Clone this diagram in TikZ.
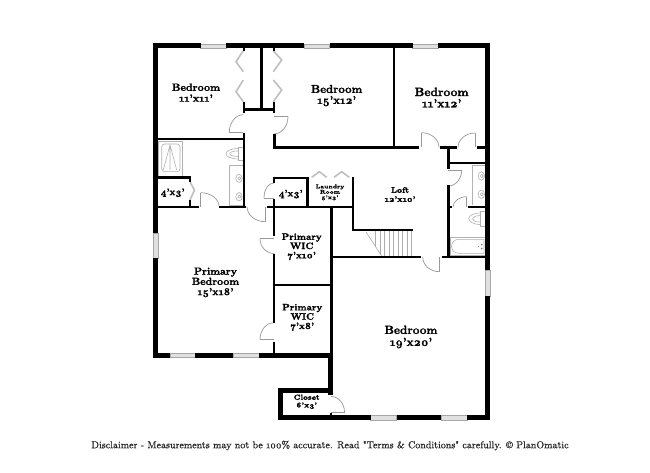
\documentclass[tikz,border=0pt]{standalone}
\usepackage{fontspec}
\setmainfont{Latin Modern Roman}[Numbers=OldStyle,BoldFeatures={FakeBold=1.6}]
\newfontface\notefont{Latin Modern Roman}[Numbers=OldStyle,FakeBold=0.6]
\usetikzlibrary{calc}
\newcommand\lblf[2]{\fontsize{#1}{#2}\selectfont\bfseries}
\newcommand\doorswing[3]{% hinge, leaf end, closed end
  \draw[doorline] (#2) -- (#1);
  \draw[doorline] (#2) .. controls ($(#2)!0.55!($(#2)+(#3)-(#1)$)$) and ($(#3)!0.55!($(#2)+(#3)-(#1)$)$) .. (#3);
}
\tikzset{
  wall/.style={line width=5pt,black},
  iwall/.style={line width=2.6pt,black},
  windowpane/.style={draw=black!35,fill=black!12,line width=.6pt},
  doorline/.style={draw=black!40,line width=.7pt},
  bifold/.style={draw=black!25,line width=1.6pt,line join=miter},
  fixture/.style={draw=black!30,line width=.6pt},
  stairline/.style={draw=black!32,line width=.6pt},
  room/.style={align=center,inner sep=0pt,text=black},
  x=1pt,y=-1pt
}
\begin{document}
\begin{tikzpicture}
\useasboundingbox (0,0) rectangle (650,473);
\fill[white] (0,0) rectangle (650,473);
% windows
\foreach \a/\b/\c/\d in {200.7/44.5/226/48, 304/44.5/329.5/48, 412.7/44.5/438.3/48,
  170/352.8/195/357, 233/352.8/259/357, 370.7/415.5/396.7/420, 441/415.5/467/420,
  153.5/233/158/258, 485.5/270/490/296}
  \draw[windowpane] (\a,\b) rectangle (\c,\d);
% stairs
\foreach \tx in {375.7,380.2,384.7,389.2,393.7,398.2,402.7,407.2,411.7}{
  \pgfmathsetmacro{\ty}{min(256,232+(\tx-366)*24/15.7)}
  \draw[stairline] (\tx,231) -- (\tx,\ty);
}
\draw[stairline] (366,232) -- (381.7,256);
% fixtures
\draw[fixture] (158,141) rectangle (182.5,177);
\draw[fixture,rounded corners=3pt] (161.7,144) rectangle (180,171.7);
\draw[fixture] (163.3,170) -- (170,145) -- (176.7,170) (170,145) -- (170,170);
\draw[fixture] (238,147) rectangle (243,160);
\draw[fixture] (238,148.5) .. controls (222,149) and (222,158.5) .. (238,159);
\draw[fixture] (238,151) .. controls (227,151) and (227,156.5) .. (238,156.5);
\draw[fixture] (243,165) -- (229,165) -- (229,205) -- (243,205);
\foreach \sy in {178.3,196.7}{
  \draw[fixture] (239,\sy) ellipse (3.2 and 4.2);
  \draw[fixture] (239.5,\sy) circle (1.6);
}
\draw[fixture] (485,165) -- (472.3,165) -- (472.3,205);
\foreach \sy in {176,194.3}{
  \draw[fixture] (481.3,\sy) ellipse (3.2 and 4.2);
  \draw[fixture] (481.8,\sy) circle (1.6);
}
\draw[fixture] (480,211) rectangle (485,226);
\draw[fixture] (480,213) .. controls (465,213.5) and (465,224) .. (480,224.5);
\draw[fixture] (480,215.5) .. controls (470,216) and (470,222) .. (480,222);
\draw[fixture] (450,237.3) rectangle (485,255);
\draw[fixture] (484,239.3) -- (459,239.3) .. controls (449,239.3) and (449,253.3) .. (459,253.3) -- (484,253.3) -- cycle;
\fill[black!50] (481.7,244.6) circle (.9) (481.7,248.6) circle (.9) (478.5,246.6) circle (.6);
% bifold doors
\draw[bifold] (243.3,50.7) -- (236,61.7) -- (243.3,71.7);
\draw[bifold] (243.3,80) -- (236,91.7) -- (243.3,101.7);
\draw[bifold] (273.3,50.7) -- (281.7,60) -- (273.3,71.7);
\draw[bifold] (273.3,80) -- (281.7,90) -- (273.3,101.7);
\draw[bifold] (311.7,177.3) -- (319.3,171.7) -- (326.7,177.3);
\draw[bifold] (334,177.3) -- (341.7,171.7) -- (349.3,177.3);
\draw[bifold] (190,182) -- (194.5,190) -- (190,200);
% swing doors
\doorswing{243.3,132.3}{229.3,132.3}{243.3,114.7}
\doorswing{273.7,116.7}{288,116.7}{273.7,134}
\doorswing{200.7,206.5}{200.7,192.7}{219,206.5}
\doorswing{265,206.5}{265,221.7}{247,206.5}
\doorswing{273.7,198}{264,198}{273.7,183}
\doorswing{274,238.5}{260,238.5}{274,253.5}
\doorswing{274,339.3}{260,339.3}{274,322.7}
\doorswing{331,412}{344.5,412}{331,396.5}
\doorswing{421.7,147.5}{421.7,132.7}{439,147.5}
\doorswing{475,147.5}{475,133}{458,147.5}
\doorswing{448.3,170}{461.7,170}{448.3,186}
\doorswing{466.7,207}{466.7,196.7}{453,207}
\doorswing{439.3,257}{439.3,271.7}{422.7,257}
% outer walls
\draw[wall] (153.2,46) -- (200.7,46) (226,46) -- (304,46) (329.5,46) -- (412.7,46) (438.3,46) -- (490,46);
\draw[wall] (155.7,43.5) -- (155.7,233) (155.7,258) -- (155.7,357.5);
\draw[wall] (487.6,43.5) -- (487.6,270) (487.6,296) -- (487.6,420.2);
\draw[wall] (153.2,355) -- (170,355) (195,355) -- (233,355) (259,355) -- (333,355);
\draw[wall] (278.3,417.7) -- (370.7,417.7) (396.7,417.7) -- (441,417.7) (467,417.7) -- (490,417.7);
\draw[wall] (280.8,387.7) -- (280.8,420.2);
\draw[wall] (278.3,390) -- (333,390);
\draw[wall] (330.5,352.5) -- (330.5,395);
% interior walls
\draw[iwall] (394,46) -- (394,148.7);
\draw[iwall] (273.2,147.7) -- (419.3,147.7) (440,147.7) -- (456.7,147.7) (476.7,147.7) -- (486,147.7);
\draw[iwall] (448.3,147.7) -- (448.3,169) (448.3,185.5) -- (448.3,258);
\draw[iwall] (448.3,163) -- (486,163);
\draw[iwall] (447,207) -- (452,207) (467.5,207) -- (486,207);
\draw[iwall] (331.7,257) -- (420.7,257) (441.7,257) -- (486,257);
\draw[iwall] (353,176.7) -- (353,231.3);
\draw[iwall] (352,230) -- (413,230);
\draw[iwall] (158,206.8) -- (199,206.8) (219.3,206.8) -- (246,206.8) (267.3,206.8) -- (354,206.8);
\draw[iwall] (158,139) -- (245,139);
\draw[iwall] (244,133) -- (244,208);
\draw[iwall] (244,48) -- (244,51) (244,102) -- (244,113);
\draw[iwall] (274,48) -- (274,51) (274,102) -- (274,113);
\draw[iwall] (243,109.3) -- (275,109.3);
\draw[iwall] (261.3,46) -- (261.3,110);
\draw[iwall] (274.5,134.5) -- (274.5,148.5);
\draw[iwall] (158,177.3) -- (191.3,177.3);
\draw[iwall] (190,176) -- (190,182) (190,200) -- (190,208);
\draw[iwall] (274,176.7) -- (274,182.7) (274,199) -- (274,236) (274,253.5) -- (274,322.7) (274,341.7) -- (274,355);
\draw[iwall] (272.7,178) -- (308.5,178);
\draw[iwall] (307.3,178) -- (307.3,208);
\draw[iwall] (331.7,206) -- (331.7,353);
\draw[iwall] (274,285) -- (331,285);
\draw[iwall] (331,413) -- (331,416);
% room labels
\node[room,font=\lblf{10.5}{10.8}] (r1) at (196,92.6) {Bedroom\\11'x11'};
\node[room,font=\lblf{11.4}{11}] (r2) at (336.7,95.6) {Bedroom\\15'x12'};
\node[room,font=\lblf{12}{11.3}] (r3) at (441.7,97.5) {Bedroom\\11'x12'};
\node[room,font=\lblf{10.3}{10.2}] (r4) at (215.5,282.4) {Primary\\Bedroom\\15'x18'};
\node[room,font=\lblf{9.3}{9.2}] (r5) at (301.7,246.8) {Primary\\WIC\\7'x10'};
\node[room,font=\lblf{9.3}{9.3}] (r6) at (302.3,317.4) {Primary\\WIC\\7'x8'};
\node[room,font=\lblf{8.2}{9}] (r7) at (400,194.5) {Loft\\12'x10'};
\node[room,font=\lblf{5.6}{5.4}] (r8) at (330,192.4) {Laundry\\Room\\5'x3'};
\node[room,font=\lblf{9.6}{10}] (r9) at (290.7,194) {4'x3'};
\node[room,font=\lblf{9.6}{10}] (r10) at (172.7,192.7) {4'x3'};
\node[room,font=\lblf{7.3}{7.7}] (r11) at (306.7,401.8) {Closet\\6'x3'};
\node[room,font=\lblf{11.8}{12}] (r12) at (411,337) {Bedroom\\19'x20'};
\node[inner sep=0pt,text=black!85,font=\fontsize{10}{11}\notefont] (note) at (330,445.5) {Disclaimer - Measurements may not be 100\% accurate. Read "Terms \& Conditions" carefully. © PlanOmatic};
\end{tikzpicture}
\end{document}
